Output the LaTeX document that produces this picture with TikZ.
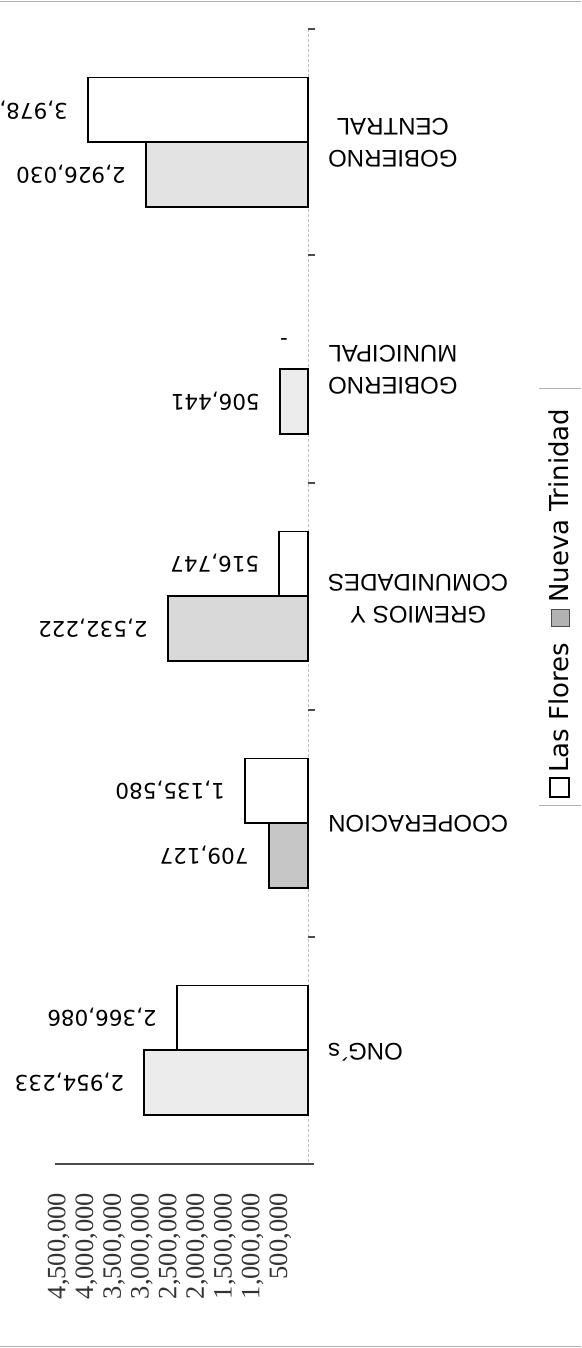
\documentclass[tikz,border=0pt]{standalone}
\usepackage{fontspec}
\setmainfont{Liberation Sans}
\newfontfamily\valfont{DejaVu Sans}
\newfontfamily\tickfont{Liberation Serif}
\begin{document}
\begin{tikzpicture}[x=1pt,y=-1pt,
  barline/.style={draw=black, line width=1.8pt},
  lfbar/.style={barline, fill=white},
  ntbar/.style={barline, fill=gray!30},
  vallab/.style={font=\valfont\fontsize{21.5}{24}\selectfont, rotate=180, anchor=west, inner sep=0pt},
  catlab/.style={font=\fontsize{24}{32}\selectfont, rotate=180, anchor=east, align=center, inner sep=0pt},
  ticklab/.style={font=\tickfont\fontsize{26.5}{26.5}\selectfont, rotate=90, anchor=east, inner sep=0pt, text=black!80},
  leglab/.style={font=\valfont\fontsize{26}{28}\selectfont, rotate=90, anchor=base west, inner sep=0pt},
  frameline/.style={draw=gray!60, line width=1.5pt},
  tickmark/.style={draw=gray!60!black, line width=1.2pt},
]
\useasboundingbox (0,0) rectangle (581,1348);
% page rules
\draw[frameline] (0,1.5) -- (581,1.5);
\draw[frameline] (0,1346.5) -- (581,1346.5);
% category axis (baseline)
\draw[gray!50, line width=0.8pt, densely dashed] (308,29) -- (308,1164);
\foreach \yy in {29,255,483,710,937} \draw[tickmark] (308,\yy) -- (315,\yy);
% value axis
\draw[draw=gray!60!black, line width=1.5pt] (55,1164) -- (314,1164);
% tick labels
\foreach \v/\t in {0.5/{500,000},1/{1,000,000},1.5/{1,500,000},2/{2,000,000},2.5/{2,500,000},3/{3,000,000},3.5/{3,500,000},4/{4,000,000},4.5/{4,500,000}}
  \node[ticklab] at ({308-55.4*\v},1193) {\t};
% GOBIERNO CENTRAL (center 142)
\draw[lfbar] (88,77.5) rectangle (308,142);
\draw[ntbar, fill=gray!22] ({308-55.4*2.926030},142) rectangle (308,207);
\node[vallab] (v1a) at (68,110) {3,978,};
\node[vallab] (v1b) at ({288-55.4*2.926030},174.5) {2,926,030};
\node[catlab] (c1) at (328,143) {GOBIERNO\\CENTRAL};
% GOBIERNO MUNICIPAL (center 369)
\draw[ntbar, fill=gray!15] ({308-55.4*0.506441},369) rectangle (308,434);
\node[vallab] (v2a) at (288,336.5) {-};
\node[vallab] (v2b) at ({288-55.4*0.506441},401.5) {506,441};
\node[catlab] (c2) at (328,370) {GOBIERNO\\MUNICIPAL};
% GREMIOS Y COMUNIDADES (center 596)
\draw[lfbar] ({308-55.4*0.516747},531.5) rectangle (308,596);
\draw[ntbar, fill=gray!30] ({308-55.4*2.532222},596) rectangle (308,661);
\node[vallab] (v3a) at ({288-55.4*0.516747},563.5) {516,747};
\node[vallab] (v3b) at ({288-55.4*2.532222},628.5) {2,532,222};
\node[catlab] (c3) at (328,599) {GREMIOS Y\\COMUNIDADES};
% COOPERACION (center 823)
\draw[lfbar] ({308-55.4*1.135580},758.5) rectangle (308,823);
\draw[ntbar, fill=gray!45] ({308-55.4*0.709127},823) rectangle (308,888);
\node[vallab] (v4a) at ({288-55.4*1.135580},790.5) {1,135,580};
\node[vallab] (v4b) at ({288-55.4*0.709127},855.5) {709,127};
\node[catlab] (c4) at (328,824) {COOPERACION};
% ONG's (center 1050)
\draw[lfbar] ({308-55.4*2.366086},985.5) rectangle (308,1050);
\draw[ntbar, fill=gray!15] ({308-55.4*2.954233},1050) rectangle (308,1115);
\node[vallab] (v5a) at ({288-55.4*2.366086},1017.5) {2,366,086};
\node[vallab] (v5b) at ({288-55.4*2.954233},1082.5) {2,954,233};
\node[catlab] (c5) at (328,1052) {ONG´s};
% legend
\draw[gray!60, line width=1pt] (539,388) -- (581,388);
\draw[gray!60, line width=1pt] (539,805) -- (581,805);
\draw[black, line width=1.2pt, fill=white] (550,778) rectangle (569,797);
\draw[black!70, line width=1pt, fill=gray!60] (551,609) rectangle (569,626);
\node[leglab] (l1) at (568,773) {Las Flores};
\node[leglab] (l2) at (568,603) {Nueva Trinidad};
\end{tikzpicture}
\end{document}
